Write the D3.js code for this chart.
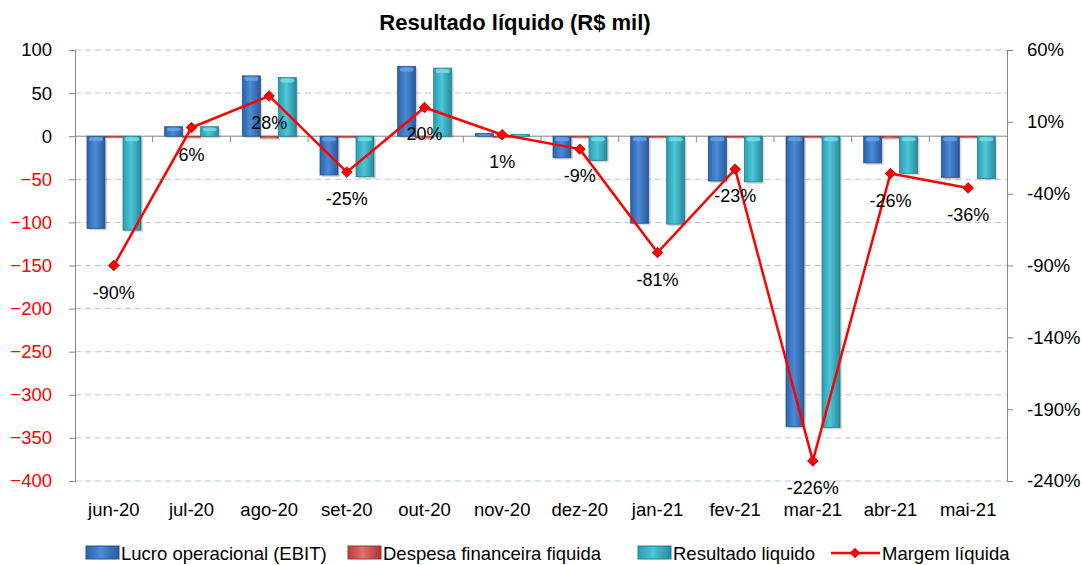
<!DOCTYPE html>
<html>
<head>
<meta charset="utf-8">
<script src="https://cdn.jsdelivr.net/npm/d3@7"></script>
<style>
  body { margin: 0; background: #fff; }
  text { font-family: "Liberation Sans", Arial, sans-serif; }
</style>
</head>
<body>
<div id="chart"></div>
<script>
// values (R$ mil and %)
var months = ["jun-20","jul-20","ago-20","set-20","out-20","nov-20","dez-20","jan-21","fev-21","mar-21","abr-21","mai-21"];
var ebit = [-107, 11, 70, -45, 81, 3, -25, -101, -52, -337, -31, -48];
var despesa = [-1, -1, -2, -1, -2, -1, -1, -1, -1, -1, -2, -1];
var resultado = [-109, 11, 68, -47, 79, 2, -28, -102, -53, -338, -43, -49];
var margem = [-90, 6, 28, -25, 20, 1, -9, -81, -23, -226, -26, -36];
var leftTicks = [100, 50, 0, -50, -100, -150, -200, -250, -300, -350, -400];
var rightTicks = [60, 10, -40, -90, -140, -190, -240];

var W = 1082, H = 565;
var plotL = 75, plotR = 1007, plotT = 50, plotB = 481;
var fs = 18.5;

var svg = d3.select("#chart").append("svg")
  .attr("width", W)
  .attr("height", H);

var defs = svg.append("defs");
function grad(id, c0, c1, c2) {
  var g = defs.append("linearGradient").attr("id", id)
    .attr("x1", "0%").attr("x2", "100%").attr("y1", "0%").attr("y2", "0%");
  g.append("stop").attr("offset", "0%").attr("stop-color", c0);
  g.append("stop").attr("offset", "45%").attr("stop-color", c1);
  g.append("stop").attr("offset", "100%").attr("stop-color", c2);
}
grad("gBlue", "#2d62a8", "#4a8bd8", "#2a5a9c");
grad("gRed", "#b8403d", "#e0706c", "#a83533");
grad("gCyan", "#2b9db0", "#4cc6d8", "#268a9c");

var x = d3.scaleBand().domain(months).range([plotL, plotR]).paddingInner(0).paddingOuter(0);
var y = d3.scaleLinear().domain([-400, 100]).range([plotB, plotT]);
var y2 = d3.scaleLinear().domain([-240, 60]).range([plotB, plotT]);

// gridlines
svg.append("g").selectAll("line")
  .data(leftTicks.filter(function(d) { return d !== 0; }))
  .enter().append("line")
  .attr("x1", plotL).attr("x2", plotR)
  .attr("y1", function(d) { return y(d); })
  .attr("y2", function(d) { return y(d); })
  .attr("stroke", "#b4c6e7")
  .attr("stroke-width", 1)
  .attr("stroke-dasharray", "6,4");

// left axis
var yAxis = svg.append("g")
  .attr("transform", "translate(" + plotL + ",0)")
  .call(d3.axisLeft(y).tickValues(leftTicks).tickSize(6).tickPadding(17));
yAxis.select(".domain").attr("stroke", "#868686");
yAxis.selectAll(".tick line").attr("stroke", "#868686");
yAxis.selectAll(".tick text")
  .attr("font-size", fs)
  .attr("fill", function(d) { return d < 0 ? "#ff0000" : "#000"; });

// right axis
var yAxis2 = svg.append("g")
  .attr("transform", "translate(" + plotR + ",0)")
  .call(d3.axisRight(y2).tickValues(rightTicks).tickSize(6).tickPadding(14)
    .tickFormat(function(d) { return d + "%"; }));
yAxis2.select(".domain").attr("stroke", "#868686");
yAxis2.selectAll(".tick line").attr("stroke", "#868686");
yAxis2.selectAll(".tick text").attr("font-size", fs).attr("fill", "#000");

// zero line with category ticks
svg.append("line")
  .attr("x1", plotL).attr("x2", plotR)
  .attr("y1", y(0)).attr("y2", y(0))
  .attr("stroke", "#868686");
svg.append("g").selectAll("line")
  .data(months.slice(1))
  .enter().append("line")
  .attr("x1", function(d) { return x(d); })
  .attr("x2", function(d) { return x(d); })
  .attr("y1", y(0)).attr("y2", y(0) + 6)
  .attr("stroke", "#868686");

// category labels
svg.append("g").selectAll("text")
  .data(months)
  .enter().append("text")
  .attr("x", function(d) { return x(d) + x.bandwidth() / 2; })
  .attr("y", 516)
  .attr("text-anchor", "middle")
  .attr("font-size", fs)
  .text(function(d) { return d; });

// bars
var bw = 18, pad = 12;
var series = [
  { vals: ebit, fill: "url(#gBlue)", stroke: "#24548f", cap: "#6aa6e8" },
  { vals: despesa, fill: "url(#gRed)", stroke: "#a23331", cap: "#ee9a97" },
  { vals: resultado, fill: "url(#gCyan)", stroke: "#1f7f90", cap: "#7de0ec" }
];
series.forEach(function(s, i) {
  var g = svg.append("g");
  g.selectAll("rect.shadow")
    .data(s.vals)
    .enter().append("rect")
    .attr("x", function(d, j) { return x(months[j]) + pad + i * bw + 2; })
    .attr("y", function(d) { return Math.min(y(0), y(d)) + 2; })
    .attr("width", bw)
    .attr("height", function(d) { return Math.abs(y(d) - y(0)); })
    .attr("fill", "#000")
    .attr("opacity", 0.15);
  g.selectAll("rect.bar")
    .data(s.vals)
    .enter().append("rect")
    .attr("x", function(d, j) { return x(months[j]) + pad + i * bw; })
    .attr("y", function(d) { return Math.min(y(0), y(d)); })
    .attr("width", bw)
    .attr("height", function(d) { return Math.max(1, Math.abs(y(d) - y(0))); })
    .attr("fill", s.fill)
    .attr("stroke", s.stroke)
    .attr("stroke-width", 0.8);
  g.selectAll("rect.cap")
    .data(s.vals)
    .enter().append("rect")
    .attr("x", function(d, j) { return x(months[j]) + pad + i * bw + 2; })
    .attr("y", function(d) { return Math.min(y(0), y(d)) + 1; })
    .attr("width", bw - 4)
    .attr("height", function(d) { return Math.min(4, Math.abs(y(d) - y(0)) / 3); })
    .attr("rx", 2)
    .attr("fill", s.cap)
    .attr("opacity", 0.8);
});

// margin line
var cx = function(d, j) { return x(months[j]) + x.bandwidth() / 2; };
var line = d3.line()
  .x(function(d, j) { return x(months[j]) + x.bandwidth() / 2; })
  .y(function(d) { return y2(d); });
svg.append("path")
  .datum(margem)
  .attr("d", line)
  .attr("fill", "none")
  .attr("stroke", "#ff0000")
  .attr("stroke-width", 2.5);
svg.append("g").selectAll("path")
  .data(margem)
  .enter().append("path")
  .attr("d", d3.symbol().type(d3.symbolDiamond2).size(70))
  .attr("transform", function(d, j) { return "translate(" + cx(d, j) + "," + y2(d) + ")"; })
  .attr("fill", "#ff0000")
  .attr("stroke", "#d00000");
svg.append("g").selectAll("text")
  .data(margem)
  .enter().append("text")
  .attr("x", cx)
  .attr("y", function(d) { return y2(d) + 33; })
  .attr("text-anchor", "middle")
  .attr("font-size", 18)
  .text(function(d) { return d + "%"; });

// title
svg.append("text")
  .attr("x", 515).attr("y", 30)
  .attr("text-anchor", "middle")
  .attr("font-size", 22)
  .attr("font-weight", "bold")
  .text("Resultado líquido (R$ mil)");

// legend
var legend = [
  { label: "Lucro operacional (EBIT)", fill: "url(#gBlue)", stroke: "#24548f", x: 86 },
  { label: "Despesa financeira fiquida", fill: "url(#gRed)", stroke: "#a23331", x: 348 },
  { label: "Resultado liquido", fill: "url(#gCyan)", stroke: "#1f7f90", x: 638 }
];
var lg = svg.append("g");
legend.forEach(function(l) {
  lg.append("rect")
    .attr("x", l.x).attr("y", 546)
    .attr("width", 33).attr("height", 13)
    .attr("fill", l.fill).attr("stroke", l.stroke);
  lg.append("text")
    .attr("x", l.x + 35).attr("y", 560)
    .attr("font-size", fs)
    .text(l.label);
});
lg.append("line")
  .attr("x1", 831).attr("x2", 880)
  .attr("y1", 553).attr("y2", 553)
  .attr("stroke", "#ff0000").attr("stroke-width", 2.5);
lg.append("path")
  .attr("d", d3.symbol().type(d3.symbolDiamond2).size(70))
  .attr("transform", "translate(855,553)")
  .attr("fill", "#ff0000");
lg.append("text")
  .attr("x", 882).attr("y", 560)
  .attr("font-size", fs)
  .text("Margem líquida");
</script>
</body>
</html>
